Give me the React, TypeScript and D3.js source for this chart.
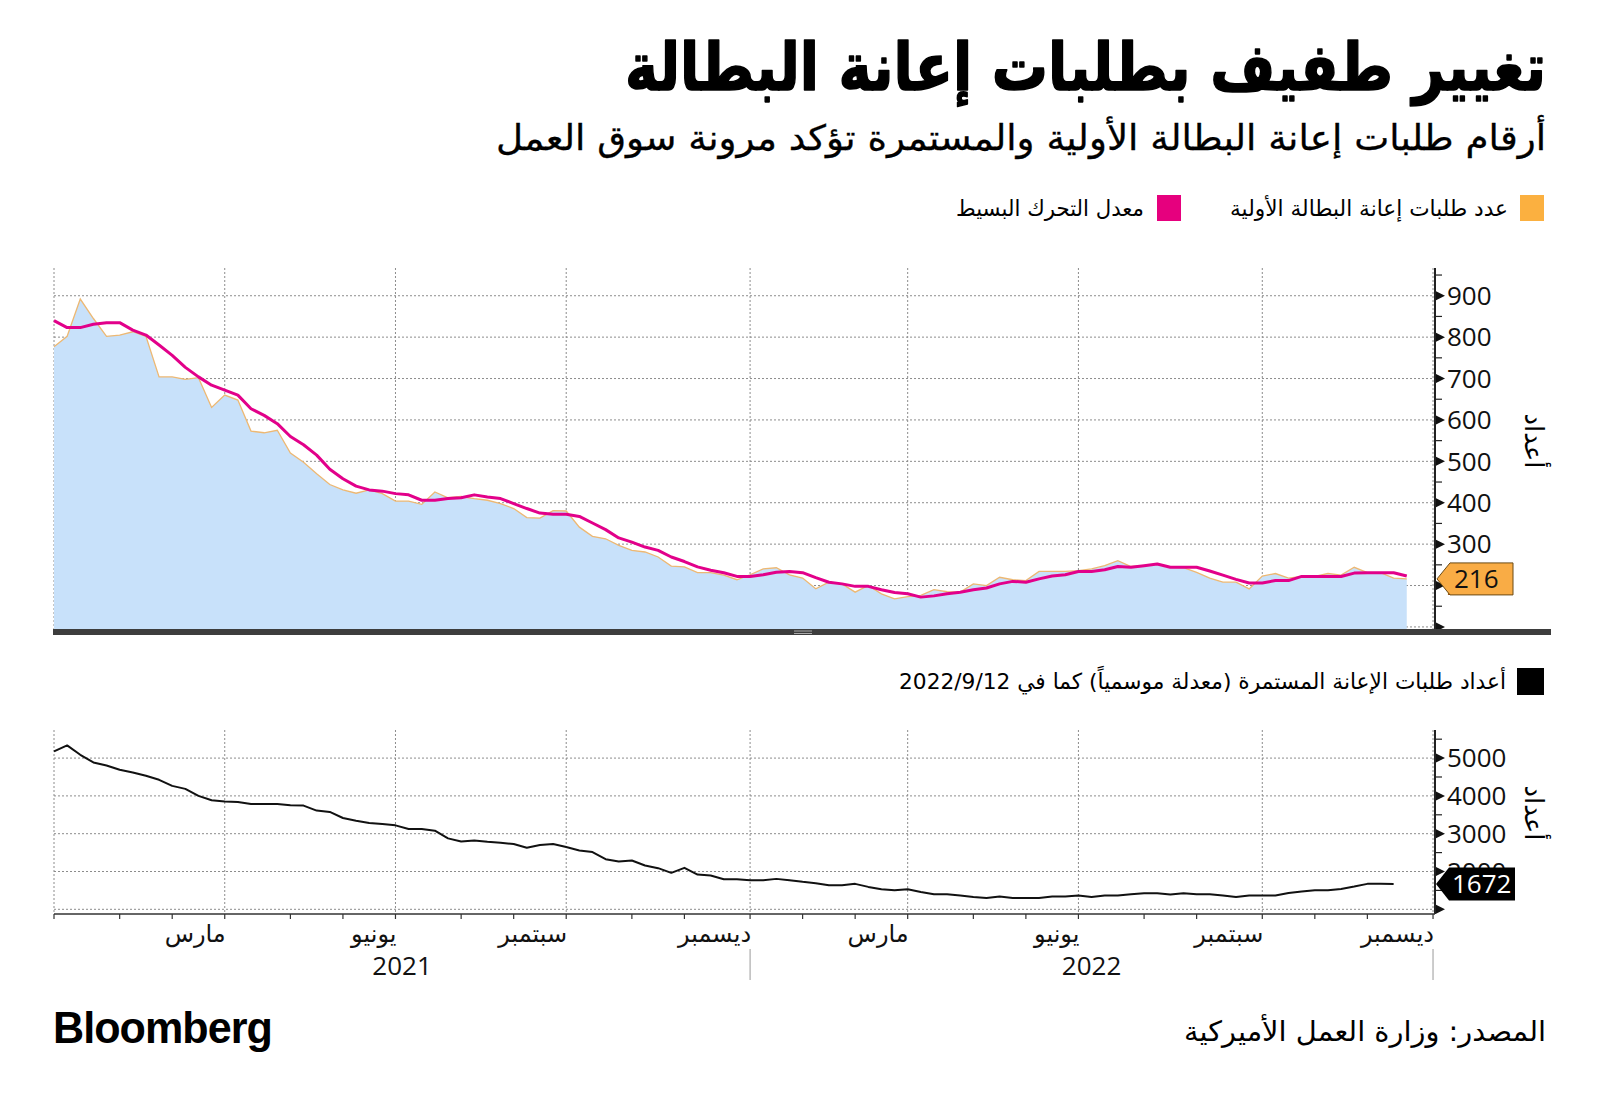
import React from "react";
import * as d3 from "d3";

// ---------- DATA (thousands) ----------
const initialClaims = [
  777, 802, 892, 845, 802, 805, 813, 802, 704, 704, 698, 702, 630, 660, 648, 573, 569, 575, 520, 498,
  470, 444, 431, 423, 431, 422, 404, 404, 396, 426, 412, 415, 410, 406, 398, 386, 364, 363, 381, 380,
  341, 319, 313, 297, 285, 281, 269, 247, 245, 231, 231, 225, 214, 226, 240, 243, 226, 218, 192, 208,
  204, 184, 200, 180, 168, 173, 176, 190, 185, 184, 204, 200, 220, 214, 212, 234, 234, 234, 236, 240,
  248, 260, 246, 248, 252, 244, 243, 232, 218, 208, 208, 192, 223, 229, 218, 222, 222, 229, 225, 244,
  231, 231, 218, 216,
];

const movingAverage = [
  840, 823, 823, 831, 835, 835, 817, 805, 781, 756, 727, 704, 684, 672, 660, 627, 611, 591, 560, 540,
  515, 481, 458, 440, 431, 428, 422, 419, 406, 406, 410, 412, 419, 414, 410, 398, 386, 375, 372, 372,
  367, 351, 335, 315, 305, 293, 285, 269, 258, 245, 237, 231, 222, 222, 226, 232, 234, 231, 219, 208,
  204, 198, 198, 190, 183, 180, 172, 175, 180, 184, 190, 194, 204, 210, 208, 216, 223, 226, 234, 234,
  238, 246, 244, 248, 252, 244, 244, 244, 235, 225, 215, 206, 206, 212, 212, 222, 222, 222, 222, 230,
  231, 231, 231, 223,
];

const continuingClaims = [
  5177, 5336, 5088, 4885, 4805, 4690, 4620, 4531, 4425, 4265, 4186, 4000, 3885, 3850, 3841, 3788, 3788, 3788, 3752, 3743,
  3611, 3575, 3416, 3345, 3283, 3257, 3221, 3124, 3124, 3080, 2876, 2796, 2823, 2788, 2761, 2726, 2628, 2699, 2726, 2646,
  2558, 2513, 2327, 2265, 2292, 2159, 2088, 1965, 2097, 1920, 1894, 1796, 1796, 1770, 1770, 1805, 1770, 1726, 1690, 1637,
  1637, 1673, 1593, 1531, 1504, 1531, 1460, 1398, 1398, 1363, 1327, 1301, 1336, 1301, 1301, 1301, 1336, 1336, 1363, 1327,
  1363, 1363, 1398, 1425, 1425, 1389, 1425, 1398, 1398, 1363, 1327, 1363, 1363, 1363, 1434, 1469, 1504, 1504, 1540, 1602,
  1673, 1673, 1672,
];

const monthNames = [
  "يناير", "فبراير", "مارس", "أبريل", "مايو", "يونيو",
  "يوليو", "أغسطس", "سبتمبر", "أكتوبر", "نوفمبر", "ديسمبر",
];
const labeledMonths = [2, 5, 8, 11];
const topTicks = [100, 200, 300, 400, 500, 600, 700, 800, 900];
const topLabeled = [200, 300, 400, 500, 600, 700, 800, 900];
const topMinor = [150, 250, 350, 450, 550, 650, 750, 850, 950];
const bottomTicks = [1000, 2000, 3000, 4000, 5000];
const bottomLabeled = [2000, 3000, 4000, 5000];
const bottomMinor = [1500, 2500, 3500, 4500, 5500];

const title = "تغيير طفيف بطلبات إعانة البطالة";
const subtitle = "أرقام طلبات إعانة البطالة الأولية والمستمرة تؤكد مرونة سوق العمل";
const legendInitial = "عدد طلبات إعانة البطالة الأولية";
const legendAverage = "معدل التحرك البسيط";
const legendContinuing = "أعداد طلبات الإعانة المستمرة (معدلة موسمياً) كما في 2022/9/12";
const axisTitle = "أعداد";
const sourceText = "المصدر: وزارة العمل الأميركية";

// ---------- STYLE ----------
const AR = "'DejaVu Sans', 'Noto Sans', sans-serif";
const NUM = "'Open Sans', 'DejaVu Sans', sans-serif";
const GRID = "#8c8c8c";

export default function App() {
  const weeks = d3.timeFriday.range(new Date(2021, 0, 1), new Date(2023, 0, 7));
  const x = d3.scaleLinear().domain([0, 105.15]).range([54, 1435]);

  const yTop = d3.scaleLinear().domain([95, 967]).range([629, 268]);
  const yBot = d3.scaleLinear().domain([876, 5743]).range([914, 730]);

  // month boundary ticks
  const monthTicks: { i: number; label: string | null }[] = [{ i: 0, label: null }];
  const yearTicks: number[] = [0];
  for (let i = 1; i < weeks.length; i++) {
    if (weeks[i].getMonth() !== weeks[i - 1].getMonth()) {
      const pm = weeks[i - 1].getMonth();
      monthTicks.push({ i, label: labeledMonths.includes(pm) ? monthNames[pm] : null });
    }
    if (weeks[i].getFullYear() !== weeks[i - 1].getFullYear()) yearTicks.push(i);
  }
  const gridTicks = monthTicks.filter((t) => t.label !== null);

  const area = d3
    .area<number>()
    .x((_, i) => x(i))
    .y0(yTop.range()[0])
    .y1((d) => yTop(d));
  const lineTop = d3.line<number>().x((_, i) => x(i)).y((d) => yTop(d));
  const lineBot = d3.line<number>().x((_, i) => x(i)).y((d) => yBot(d));

  const L = 54;
  const R = 1435;
  const lastInit = initialClaims[initialClaims.length - 1];
  const lastCont = continuingClaims[continuingClaims.length - 1];

  const tri = (xx: number, yy: number) => `M${xx},${yy - 4.5}L${xx + 9},${yy}L${xx},${yy + 4.5}Z`;
  const tag = (xx: number, yy: number, w: number, h: number) =>
    `M${xx},${yy}L${xx + 13},${yy - h / 2}L${xx + w},${yy - h / 2}L${xx + w},${yy + h / 2}L${xx + 13},${yy + h / 2}Z`;

  return (
    <svg width={1600} height={1106} style={{ display: "block", position: "absolute", left: 0, top: 0, background: "#fff" }}>
      <rect x={0} y={0} width={1600} height={1106} fill="#fff" />
      {/* Title */}
      <text x={1546} y={90} fontFamily={AR} fontWeight={700} fontSize={66} direction="rtl" textAnchor="start"
        stroke="#000" strokeWidth={1.6} strokeLinejoin="round"
        textLength={921} lengthAdjust="spacingAndGlyphs">{title}</text>
      <text x={1546} y={150} fontFamily={AR} fontSize={35} direction="rtl" textAnchor="start"
        stroke="#000" strokeWidth={0.3}
        textLength={1050} lengthAdjust="spacingAndGlyphs">{subtitle}</text>

      {/* Legend 1 */}
      <rect x={1520} y={195} width={24} height={26} fill="#FBB040" />
      <text x={1508} y={216} fontFamily={AR} fontSize={22} direction="rtl" textAnchor="start"
        textLength={278} lengthAdjust="spacingAndGlyphs">{legendInitial}</text>
      <rect x={1157} y={195} width={24} height={26} fill="#E6007E" />
      <text x={1144} y={216} fontFamily={AR} fontSize={22} direction="rtl" textAnchor="start"
        textLength={188} lengthAdjust="spacingAndGlyphs">{legendAverage}</text>

      {/* ---------- Top chart ---------- */}
      {topTicks.map((v) => (
        <line key={"hg" + v} x1={L} x2={R} y1={yTop(v)} y2={yTop(v)} stroke={GRID} strokeWidth={1} strokeDasharray="2,2" />
      ))}
      {gridTicks.map((t) => (
        <line key={"vg" + t.i} x1={x(t.i)} x2={x(t.i)} y1={268} y2={629} stroke={GRID} strokeWidth={1} strokeDasharray="2,2" />
      ))}
      <line x1={L} x2={L} y1={268} y2={629} stroke={GRID} strokeWidth={1} strokeDasharray="2,2" />
      <path d={area(initialClaims) || ""} fill="#C8E1FA" />
      <path d={lineTop(initialClaims) || ""} fill="none" stroke="#EDB873" strokeWidth={1.3} />
      <path d={lineTop(movingAverage) || ""} fill="none" stroke="#E2008A" strokeWidth={3} strokeLinejoin="round" />

      {/* right axis top */}
      <line x1={R} x2={R} y1={268} y2={629} stroke="#222" strokeWidth={2} />
      {topMinor.map((v) => (
        <line key={"tm" + v} x1={R} x2={R + 7} y1={yTop(v)} y2={yTop(v)} stroke="#222" strokeWidth={1.2} />
      ))}
      {topTicks.map((v) => (
        <path key={"tt" + v} d={tri(R + 1, yTop(v))} fill="#111" />
      ))}
      {topLabeled.map((v) => (
        <text key={"tl" + v} x={R + 12} y={yTop(v)} dy="0.36em" fontFamily={NUM} fontSize={26} fill="#111">{v}</text>
      ))}
      <text transform={`translate(1532,441) rotate(90)`} fontFamily={AR} fontSize={26} textAnchor="middle" dominantBaseline="middle">{axisTitle}</text>
      <path d={tag(R + 2, yTop(lastInit), 76, 32)} fill="#F9AC45" stroke="#6b4a14" strokeWidth={1} />
      <text x={R + 19} y={yTop(lastInit)} dy="0.36em" fontFamily={NUM} fontSize={26} fill="#111">{lastInit}</text>

      {/* dark separator bar */}
      <rect x={53} y={629} width={1498} height={6} fill="#3d3d3d" />
      <line x1={794} x2={812} y1={631} y2={631} stroke="#aaa" strokeWidth={1} />
      <line x1={794} x2={812} y1={633.5} y2={633.5} stroke="#aaa" strokeWidth={1} />

      {/* Legend 2 */}
      <rect x={1517} y={668} width={27} height={27} fill="#000" />
      <text x={1506} y={689} fontFamily={AR} fontSize={22} direction="rtl" textAnchor="start"
        textLength={607} lengthAdjust="spacingAndGlyphs">{legendContinuing}</text>

      {/* ---------- Bottom chart ---------- */}
      {bottomTicks.map((v) => (
        <line key={"bhg" + v} x1={L} x2={R} y1={yBot(v)} y2={yBot(v)} stroke={GRID} strokeWidth={1} strokeDasharray="2,2" />
      ))}
      {gridTicks.map((t) => (
        <line key={"bvg" + t.i} x1={x(t.i)} x2={x(t.i)} y1={730} y2={914} stroke={GRID} strokeWidth={1} strokeDasharray="2,2" />
      ))}
      <line x1={L} x2={L} y1={730} y2={914} stroke={GRID} strokeWidth={1} strokeDasharray="2,2" />
      <path d={lineBot(continuingClaims) || ""} fill="none" stroke="#111" strokeWidth={2} strokeLinejoin="round" />

      <line x1={R} x2={R} y1={730} y2={914} stroke="#222" strokeWidth={2} />
      {bottomMinor.map((v) => (
        <line key={"bm" + v} x1={R} x2={R + 7} y1={yBot(v)} y2={yBot(v)} stroke="#222" strokeWidth={1.2} />
      ))}
      {bottomTicks.map((v) => (
        <path key={"bt" + v} d={tri(R + 1, yBot(v))} fill="#111" />
      ))}
      {bottomLabeled.map((v) => (
        <text key={"bl" + v} x={R + 12} y={yBot(v)} dy="0.36em" fontFamily={NUM} fontSize={26} fill="#111">{v}</text>
      ))}
      <text transform={`translate(1532,813) rotate(90)`} fontFamily={AR} fontSize={26} textAnchor="middle" dominantBaseline="middle">{axisTitle}</text>
      <path d={tag(R + 1, yBot(lastCont), 79, 33)} fill="#000" />
      <text x={R + 17} y={yBot(lastCont)} dy="0.36em" fontFamily={NUM} fontSize={26} fill="#fff">{lastCont}</text>

      {/* x axis */}
      <line x1={L} x2={R} y1={914} y2={914} stroke="#333" strokeWidth={1.5} />
      {monthTicks.map((t) => (
        <line key={"xt" + t.i} x1={x(t.i)} x2={x(t.i)} y1={914} y2={919} stroke="#333" strokeWidth={1.2} />
      ))}
      {monthTicks
        .filter((t) => t.label)
        .map((t) => (
          <text key={"xl" + t.i} x={x(t.i) + 1} y={942} fontFamily={AR} fontSize={24} direction="rtl" textAnchor="start" fill="#111">
            {t.label}
          </text>
        ))}
      {yearTicks.slice(1).map((i) => (
        <line key={"yd" + i} x1={x(i)} x2={x(i)} y1={949} y2={980} stroke="#999" strokeWidth={1} />
      ))}
      {yearTicks.slice(0, -1).map((i, k) => (
        <text key={"yl" + i} x={(x(i) + x(yearTicks[k + 1])) / 2} y={975} fontFamily={NUM} fontSize={26} textAnchor="middle" fill="#111">
          {weeks[i].getFullYear()}
        </text>
      ))}

      {/* Footer */}
      <text x={53} y={1043} fontFamily="'Liberation Sans', Arial, sans-serif" fontWeight={700} fontSize={45}
        textLength={219} lengthAdjust="spacingAndGlyphs" letterSpacing={-1}>Bloomberg</text>
      <text x={1546} y={1041} fontFamily={AR} fontSize={28} direction="rtl" textAnchor="start"
        textLength={362} lengthAdjust="spacingAndGlyphs">{sourceText}</text>
    </svg>
  );
}
